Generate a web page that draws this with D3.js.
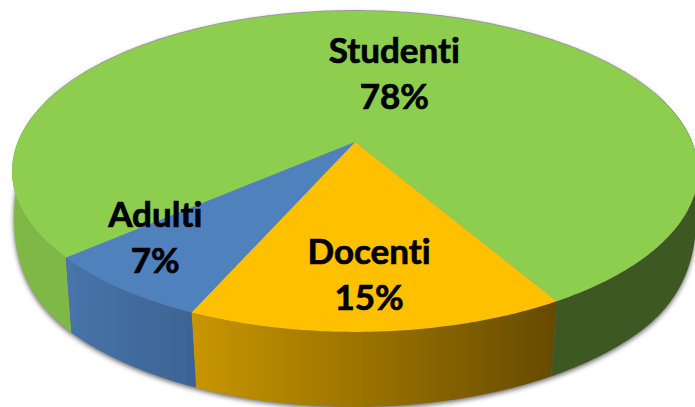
<!DOCTYPE html>
<html>
<head>
<meta charset="utf-8">
<script src="https://cdn.jsdelivr.net/npm/d3@7"></script>
<style>
  html, body { margin: 0; padding: 0; background: #fff; overflow: hidden; }
  svg { display: block; }
  text {
    font-family: Lato, "Open Sans", sans-serif;
    font-weight: 700;
    font-variant-ligatures: none;
    fill: #000;
    stroke: #000;
    stroke-width: 0.7px;
  }
</style>
</head>
<body>
<div id="chart"></div>
<script>
"use strict";

var categories = ["Studenti", "Docenti", "Adulti"];
var shares = [78, 15, 7];
var topColors = ["#8ece4f", "#ffc000", "#4f81bd"];
// wall shading, left to right
var wallColors = [["#80b846", "#3c5823"], ["#c89600", "#664b00"], ["#4874aa", "#3c6494"]];

var WIDTH = 695;
var HEIGHT = 407;
var START_ANGLE = -131 * Math.PI / 180;

// perspective of the disc: apex of the slices sits above the ellipse center
var APEX_X = 355;
var APEX_Y = 142;
var SCALE_X = 337;
var SCALE_Y = 155;
var TILT = 0.1838;
// bottom rim of the disc
var DEPTH_Y = 75;
var DEPTH_SHRINK = 0.03;

var labelRadius = [0.48, 0.74, 0.77];
var labelNudge = [[15, 1], [-2, 1], [-26, -11]];
var LINE_GAP = 46;
var FONT_SIZE = 35;

function project(angle, radius) {
  var u = Math.sin(angle) * radius;
  var v = -Math.cos(angle) * radius;
  var w = 1 - TILT * v;
  return [SCALE_X * u / w, SCALE_Y * v / w];
}

function topPoint(angle, radius) {
  var p = project(angle, radius);
  return [APEX_X + p[0], APEX_Y + p[1]];
}

function bottomPoint(angle) {
  var p = project(angle, 1);
  var v = -Math.cos(angle);
  // the wall gets shallower towards the sides, so the rim runs into the top edge without a notch
  var t = Math.max(0, Math.min(1, (v + 0.3) / 0.95));
  var drop = DEPTH_Y * Math.sin(t * Math.PI / 2);
  return [APEX_X + p[0] * (1 - DEPTH_SHRINK * Math.max(0, v)), APEX_Y + p[1] + drop];
}

function arcAngles(startAngle, endAngle) {
  var steps = Math.ceil((endAngle - startAngle) / 0.01);
  return d3.range(steps + 1).map(function (i) {
    return startAngle + (endAngle - startAngle) * i / steps;
  });
}

var pie = d3.pie().sort(null).startAngle(START_ANGLE).endAngle(START_ANGLE + 2 * Math.PI);
var slices = pie(shares);
var line = d3.line();

var svg = d3.select("#chart").append("svg").attr("width", WIDTH).attr("height", HEIGHT);
var defs = svg.append("defs");

defs.append("filter").attr("id", "rim-shadow")
  .attr("x", "-5%").attr("y", "-5%").attr("width", "110%").attr("height", "110%")
  .append("feGaussianBlur").attr("stdDeviation", 2.5);

defs.append("filter").attr("id", "soft")
  .append("feGaussianBlur").attr("stdDeviation", 0.5);

wallColors.forEach(function (pair, i) {
  var gradient = defs.append("linearGradient")
    .attr("id", "wall-" + i)
    .attr("gradientUnits", "userSpaceOnUse")
    .attr("x1", i === 0 ? APEX_X - SCALE_X * 0.8 : topPoint(slices[i].endAngle, 1)[0])
    .attr("x2", i === 0 ? APEX_X + SCALE_X * 0.6 : topPoint(slices[i].startAngle, 1)[0])
    .attr("y1", 0).attr("y2", 0);
  gradient.append("stop").attr("offset", 0).attr("stop-color", pair[0]);
  gradient.append("stop").attr("offset", 1).attr("stop-color", pair[1]);
});

var outline = arcAngles(0, 2 * Math.PI);

// soft grey shadow around the whole disc
svg.append("path")
  .attr("d", line(outline.map(bottomPoint).map(function (p) { return [p[0], p[1] + 2]; })) + "Z")
  .attr("fill", "#666")
  .attr("filter", "url(#rim-shadow)");
svg.append("path")
  .attr("d", line(outline.map(function (a) { return topPoint(a, 1); })) + "Z")
  .attr("fill", "#9a9a9a")
  .attr("transform", "translate(0,-1)")
  .attr("filter", "url(#soft)");

var disc = svg.append("g").attr("filter", "url(#soft)");

disc.selectAll("path.wall")
  .data(slices)
  .enter()
  .append("path")
  .attr("class", "wall")
  .attr("fill", function (d, i) { return "url(#wall-" + i + ")"; })
  .attr("d", function (d) {
    var angles = arcAngles(d.startAngle, d.endAngle);
    var upper = angles.map(function (a) { return topPoint(a, 1); });
    var lower = angles.slice().reverse().map(bottomPoint);
    return line(upper.concat(lower)) + "Z";
  });

disc.selectAll("path.top")
  .data(slices)
  .enter()
  .append("path")
  .attr("class", "top")
  .attr("fill", function (d, i) { return topColors[i]; })
  .attr("d", function (d) {
    var rim = arcAngles(d.startAngle, d.endAngle).map(function (a) { return topPoint(a, 1); });
    return line([[APEX_X, APEX_Y]].concat(rim)) + "Z";
  });

var labels = svg.selectAll("g.label")
  .data(slices)
  .enter()
  .append("g")
  .attr("class", "label")
  .attr("transform", function (d, i) {
    var p = topPoint((d.startAngle + d.endAngle) / 2, labelRadius[i]);
    return "translate(" + (p[0] + labelNudge[i][0]) + "," + (p[1] + labelNudge[i][1]) + ")";
  });

labels.append("text")
  .attr("text-anchor", "middle")
  .attr("font-size", FONT_SIZE)
  .attr("y", -LINE_GAP / 2 + 11)
  .text(function (d, i) { return categories[i]; });

labels.append("text")
  .attr("text-anchor", "middle")
  .attr("font-size", FONT_SIZE)
  .attr("y", LINE_GAP / 2 + 11)
  .text(function (d) { return d.data + "%"; });
</script>
</body>
</html>
